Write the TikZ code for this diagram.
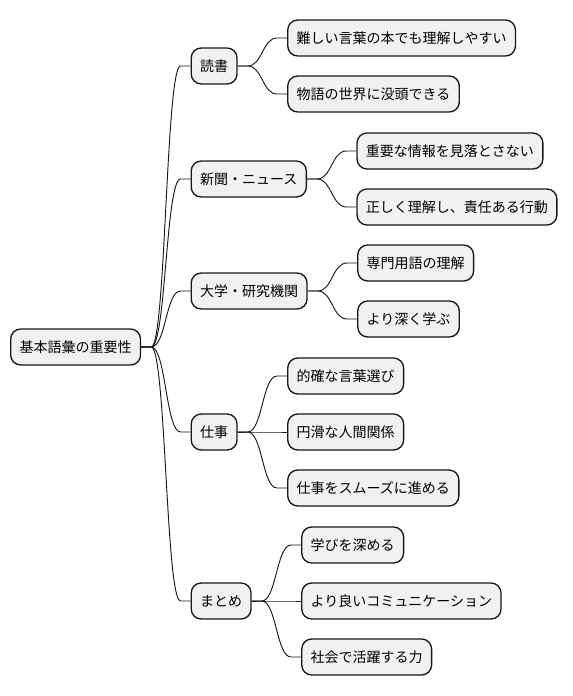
\documentclass[tikz,border=0pt]{standalone}
\usepackage{fontspec}
\setmainfont{Noto Sans CJK JP}
\usepackage{tikz}
\usetikzlibrary{calc,positioning}
\definecolor{boxfill}{HTML}{F1F1F1}
\definecolor{boxline}{HTML}{181818}
\tikzset{
	topic/.style={
		draw=boxline, fill=boxfill, line width=1pt,
		rectangle, rounded corners=7.5pt, minimum height=27pt,
		inner xsep=6.7pt, inner ysep=0pt, text=black,
		font=\fontsize{10.5pt}{12pt}\selectfont
	},
	branch/.style={draw=boxline, line width=0.7pt},
	node distance=37pt
}
\newcommand{\twig}[2]{%
	\draw[branch] let \p1 = (#1.east), \p2 = (#2.west) in
		(\p1) -- (\x1+7.5pt,\y1)
		.. controls ({0.5*\x1+0.5*\x2},\y1) and ({0.5*\x1+0.5*\x2},\y2) ..
		(\x2-7.5pt,\y2) -- (\p2);
}

\begin{document}
\begin{tikzpicture}
				\useasboundingbox (0,0) rectangle (429pt,-522pt);
				\node[topic] (root) [anchor=west] at (7.5pt,-260.25pt) {基本語彙の重要性};
				\node[topic] (read) [right=of root, yshift=210.75pt] {読書};
				\node[topic] (news) [right=of root, yshift=126pt] {新聞・ニュース};
				\node[topic] (univ) [right=of root, yshift=42pt] {大学・研究機関};
				\node[topic] (work) [right=of root, yshift=-63.75pt] {仕事};
				\node[topic] (sum) [right=of root, yshift=-190.5pt] {まとめ};
				\node[topic] (readA) [right=of read, yshift=21pt] {難しい言葉の本でも理解しやすい};
				\node[topic] (readB) [right=of read, yshift=-21pt] {物語の世界に没頭できる};
				\node[topic] (newsA) [right=of news, yshift=21pt] {重要な情報を見落とさない};
				\node[topic] (newsB) [right=of news, yshift=-21pt] {正しく理解し、責任ある行動};
				\node[topic] (univA) [right=of univ, yshift=21pt] {専門用語の理解};
				\node[topic] (univB) [right=of univ, yshift=-21pt] {より深く学ぶ};
				\node[topic] (workA) [right=of work, yshift=42pt] {的確な言葉選び};
				\node[topic] (workB) [right=of work] {円滑な人間関係};
				\node[topic] (workC) [right=of work, yshift=-42pt] {仕事をスムーズに進める};
				\node[topic] (sumA) [right=of sum, yshift=42pt] {学びを深める};
				\node[topic] (sumB) [right=of sum] {より良いコミュニケーション};
				\node[topic] (sumC) [right=of sum, yshift=-42pt] {社会で活躍する力};
				\foreach \kid in {read,news,univ,work,sum}
					\twig{root}{\kid};
				\twig{read}{readA}
				\twig{read}{readB}
				\twig{news}{newsA}
				\twig{news}{newsB}
				\twig{univ}{univA}
				\twig{univ}{univB}
				\twig{work}{workA}
				\twig{work}{workB}
				\twig{work}{workC}
				\twig{sum}{sumA}
				\twig{sum}{sumB}
				\twig{sum}{sumC}
			\end{tikzpicture}
\end{document}
